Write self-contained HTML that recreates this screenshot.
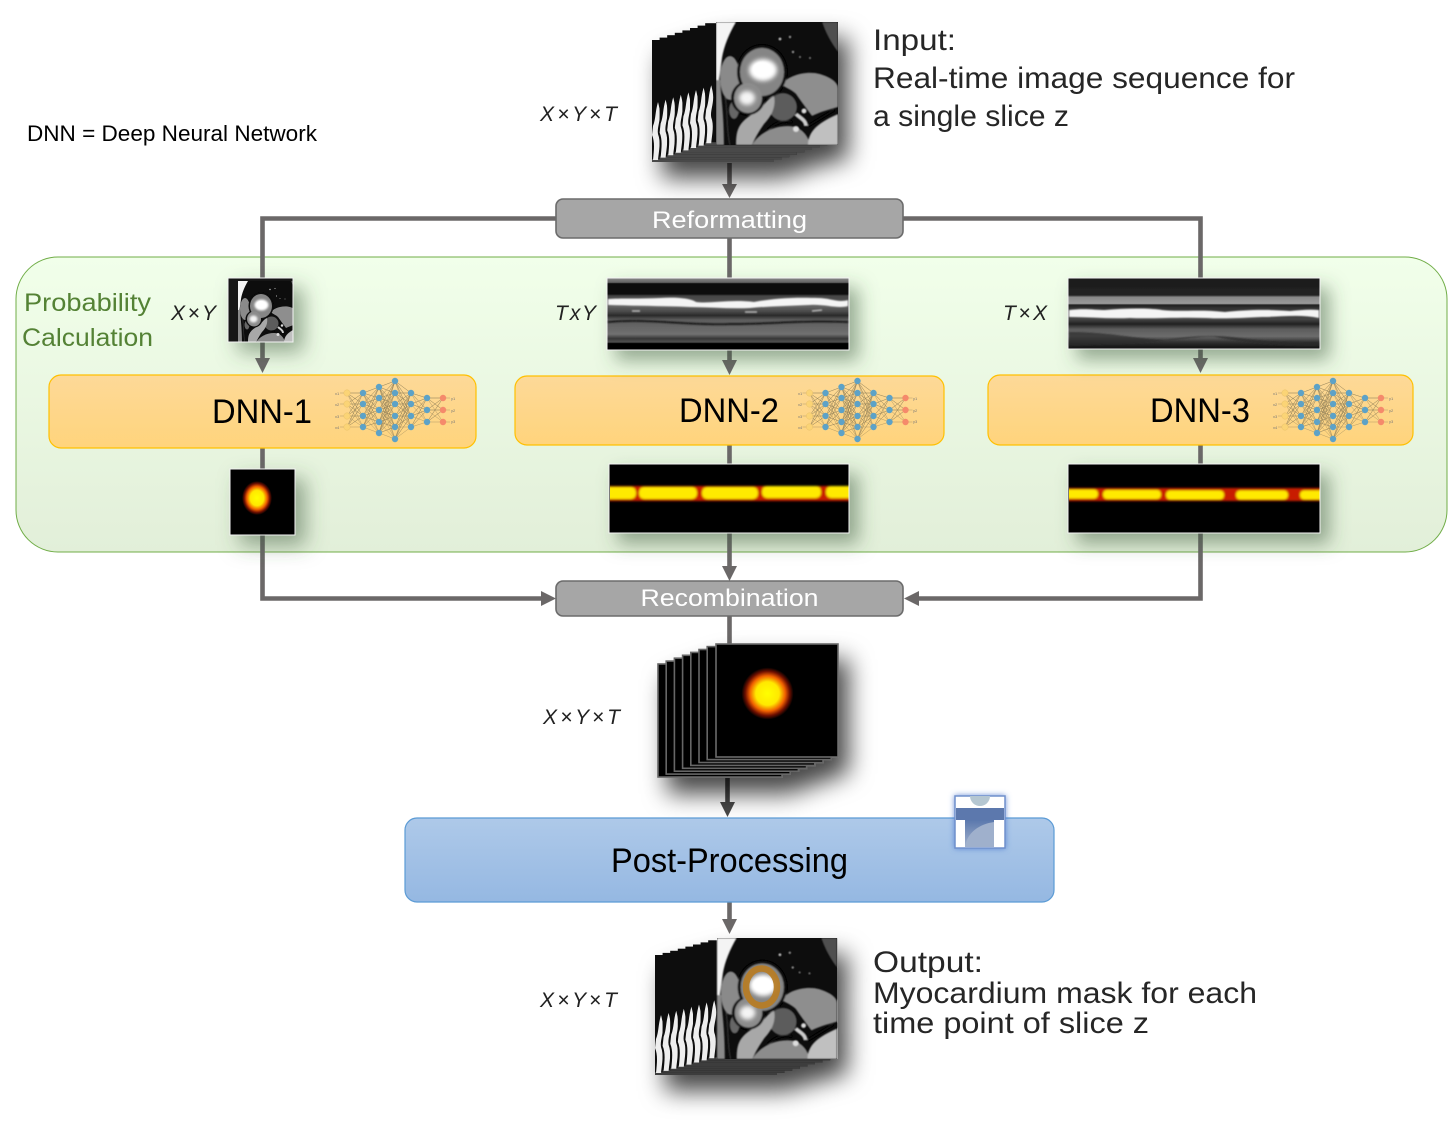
<!DOCTYPE html>
<html><head><meta charset="utf-8"><style>
html,body{margin:0;padding:0;background:#fff}
svg{display:block}
text{font-family:"Liberation Sans",sans-serif}
</style></head><body>
<svg width="1448" height="1121" viewBox="0 0 1448 1121" xmlns="http://www.w3.org/2000/svg">
<defs>
<linearGradient id="gGreen" x1="0" y1="0" x2="0" y2="1"><stop offset="0" stop-color="#f1ffea"/><stop offset="1" stop-color="#e2efd9"/></linearGradient>
<linearGradient id="gOrange" x1="0" y1="0" x2="0" y2="1"><stop offset="0" stop-color="#fdd998"/><stop offset="1" stop-color="#ffd47c"/></linearGradient>
<linearGradient id="gBlue" x1="0" y1="0" x2="0" y2="1"><stop offset="0" stop-color="#aec9e9"/><stop offset="1" stop-color="#95b8e2"/></linearGradient>
<linearGradient id="gIcon" x1="0" y1="0" x2="0" y2="1"><stop offset="0" stop-color="#5b78ad"/><stop offset="1" stop-color="#a0b0cc"/></linearGradient>
<radialGradient id="heat"><stop offset="0" stop-color="#ffff00"/><stop offset=".45" stop-color="#ffe800"/><stop offset=".68" stop-color="#f06000"/><stop offset=".85" stop-color="#701000"/><stop offset="1" stop-color="#000"/></radialGradient>
<linearGradient id="gTY" x1="0" y1="0" x2="0" y2="1">
<stop offset="0" stop-color="#888"/><stop offset=".06" stop-color="#666"/><stop offset=".08" stop-color="#0c0c0c"/><stop offset=".22" stop-color="#0c0c0c"/><stop offset=".25" stop-color="#444"/><stop offset=".4" stop-color="#606060"/><stop offset=".46" stop-color="#4c4c4c"/><stop offset=".52" stop-color="#2a2a2a"/><stop offset=".58" stop-color="#5c5c5c"/><stop offset=".78" stop-color="#707070"/><stop offset=".84" stop-color="#383838"/><stop offset=".89" stop-color="#505050"/><stop offset=".91" stop-color="#000"/><stop offset="1" stop-color="#000"/></linearGradient>
<linearGradient id="gTX" x1="0" y1="0" x2="0" y2="1">
<stop offset="0" stop-color="#1c1c1c"/><stop offset=".24" stop-color="#222"/><stop offset=".27" stop-color="#888"/><stop offset=".36" stop-color="#9a9a9a"/><stop offset=".38" stop-color="#222"/><stop offset=".43" stop-color="#333"/><stop offset=".58" stop-color="#444"/><stop offset=".65" stop-color="#222"/><stop offset=".72" stop-color="#5c5c5c"/><stop offset=".82" stop-color="#6c6c6c"/><stop offset=".9" stop-color="#333"/><stop offset="1" stop-color="#0c0c0c"/></linearGradient>
<filter id="b1" x="-20%" y="-20%" width="140%" height="140%"><feGaussianBlur stdDeviation="1"/></filter>
<filter id="b2" x="-30%" y="-30%" width="160%" height="160%"><feGaussianBlur stdDeviation="2.2"/></filter>
<filter id="b05" x="-10%" y="-10%" width="120%" height="120%"><feGaussianBlur stdDeviation=".7"/></filter>
<filter id="sStack" x="-20%" y="-20%" width="160%" height="160%"><feDropShadow dx="10" dy="16" stdDeviation="12" flood-color="#000" flood-opacity=".72"/></filter>
<filter id="sImg" x="-50%" y="-50%" width="220%" height="220%"><feDropShadow dx="10" dy="10" stdDeviation="10" flood-color="#3d5a3d" flood-opacity=".5"/></filter>
<filter id="sWide" x="-10%" y="-50%" width="125%" height="220%"><feDropShadow dx="9" dy="10" stdDeviation="9" flood-color="#3d5a3d" flood-opacity=".5"/></filter>
<filter id="glow" x="-30%" y="-30%" width="160%" height="160%"><feDropShadow dx="0" dy="0" stdDeviation="3" flood-color="#4a78d0" flood-opacity=".8"/></filter>

<g id="mri">
<rect width="122" height="123" fill="#070707"/>
<g filter="url(#b05)">
<path d="M106,0H122V30C116,22 110,12 106,0Z" fill="#505050"/>
<path d="M66,63C70,54 90,48 104,52C114,55 122,60 122,66V85C112,88 104,90 96,94C90,86 84,78 80,72C76,68 70,66 66,63Z" fill="#8e8e8e"/>
<ellipse cx="67" cy="85" rx="14" ry="14" fill="#5c5c5c"/>
<path d="M20,123C20,108 22,100 40,90C48,84 52,76 58,74C60,84 56,94 48,102C44,108 40,114 36,123Z" fill="#a8a8a8"/>
<path d="M36,123C42,112 56,104 72,104C84,104 92,112 94,123Z" fill="#8c8c8c"/>
<path d="M92,123C92,108 104,100 122,92V123Z" fill="#c0c0c0"/>
<path d="M80,92C84,96 90,98 90,104" fill="none" stroke="#ccc" stroke-width="4"/>
<path d="M52,108C60,100 68,98 76,100M92,104L118,88" fill="none" stroke="#111" stroke-width="1.6"/>
<ellipse cx="14" cy="56" rx="10" ry="22" fill="#8a8a8a"/>
<ellipse cx="18" cy="88" rx="5" ry="9" fill="#666"/>
<ellipse cx="46" cy="50" rx="25" ry="27" fill="#0a0a0a"/>
<ellipse cx="32" cy="76" rx="17" ry="17" fill="#0a0a0a"/>
<ellipse cx="46" cy="50" rx="22" ry="24" fill="#858585"/>
<ellipse cx="32" cy="76" rx="14" ry="15" fill="#8c8c8c"/>
<path d="M5,0H20C13,12 8,24 6,36C5,44 4,50 3,58H0V0Z" fill="#f4f4f4"/>
<path d="M0,58H4C5,74 8,92 8,123H0Z" fill="#8a8a8a"/>
<path d="M9,75C12,88 10,108 14,123" fill="none" stroke="#333" stroke-width="1.5"/>
</g>
<g filter="url(#b2)">
<ellipse cx="47" cy="48" rx="14" ry="11" fill="#fff"/>
<ellipse cx="31" cy="76" rx="8" ry="7" fill="#f4f4f4"/>
</g>
<g filter="url(#b05)">
<ellipse cx="46" cy="47" rx="9" ry="7" fill="#fff"/>
<circle cx="64" cy="17" r="1.4" fill="#ccc"/><circle cx="74" cy="15" r="1.2" fill="#aaa"/><circle cx="77" cy="30" r="1.2" fill="#aaa"/><circle cx="84" cy="35" r="1" fill="#999"/><circle cx="94" cy="36" r="1" fill="#999"/>
<circle cx="88" cy="89" r="2.5" fill="#ddd"/><circle cx="80" cy="107" r="3" fill="#ddd"/>
</g>
</g>

<g id="strip1">
<rect x="652" y="40" width="122" height="122" fill="#0a0a0a"/>
<rect x="652" y="159" width="122" height="3" fill="#4a4a4a"/>
<path d="M658,102C655,112 656,118 653,126L652,135C655,142 654,150 653,160L658,160C659,150 661,142 658,134C657,128 660,122 660,114C660,110 659,106 658,102Z" fill="#eee"/>
</g>
<g id="strip2">
<rect x="655" y="955" width="122" height="120" fill="#0a0a0a"/>
<rect x="655" y="1072" width="122" height="3" fill="#3c3c3c"/>
<path d="M661,1015C658,1025 659,1031 656,1039L655,1048C658,1055 657,1063 656,1073L661,1073C662,1063 664,1055 661,1047C660,1041 663,1035 663,1027C663,1023 662,1019 661,1015Z" fill="#eee"/>
</g>
<rect id="strip3" x="658" y="664" width="124" height="113" fill="#000" stroke="#666" stroke-width="1.6"/>

<g id="nn">
<path fill="none" stroke="#93835a" stroke-width=".35" d="
M-48 -17L-32 -17L-48 -17L-32 -6L-48 -17L-32 6L-48 -17L-32 17
M-48 -6L-32 -17L-48 -6L-32 -6L-48 -6L-32 6L-48 -6L-32 17
M-48 6L-32 -17L-48 6L-32 -6L-48 6L-32 6L-48 6L-32 17
M-48 17L-32 -17L-48 17L-32 -6L-48 17L-32 6L-48 17L-32 17
M-32 -17L-16 -23L-32 -17L-16 -12L-32 -17L-16 0L-32 -17L-16 12L-32 -17L-16 23
M-32 -6L-16 -23L-32 -6L-16 -12L-32 -6L-16 0L-32 -6L-16 12L-32 -6L-16 23
M-32 6L-16 -23L-32 6L-16 -12L-32 6L-16 0L-32 6L-16 12L-32 6L-16 23
M-32 17L-16 -23L-32 17L-16 -12L-32 17L-16 0L-32 17L-16 12L-32 17L-16 23
M-16 -23L0 -29L-16 -23L0 -17L-16 -23L0 -6L-16 -23L0 6L-16 -23L0 17L-16 -23L0 29
M-16 -12L0 -29L-16 -12L0 -17L-16 -12L0 -6L-16 -12L0 6L-16 -12L0 17L-16 -12L0 29
M-16 0L0 -29L-16 0L0 -17L-16 0L0 -6L-16 0L0 6L-16 0L0 17L-16 0L0 29
M-16 12L0 -29L-16 12L0 -17L-16 12L0 -6L-16 12L0 6L-16 12L0 17L-16 12L0 29
M-16 23L0 -29L-16 23L0 -17L-16 23L0 -6L-16 23L0 6L-16 23L0 17L-16 23L0 29
M0 -29L16 -17L0 -29L16 -6L0 -29L16 6L0 -29L16 17
M0 -17L16 -17L0 -17L16 -6L0 -17L16 6L0 -17L16 17
M0 -6L16 -17L0 -6L16 -6L0 -6L16 6L0 -6L16 17
M0 6L16 -17L0 6L16 -6L0 6L16 6L0 6L16 17
M0 17L16 -17L0 17L16 -6L0 17L16 6L0 17L16 17
M0 29L16 -17L0 29L16 -6L0 29L16 6L0 29L16 17
M16 -17L32 -12L16 -17L32 0L16 -17L32 12
M16 -6L32 -12L16 -6L32 0L16 -6L32 12
M16 6L32 -12L16 6L32 0L16 6L32 12
M16 17L32 -12L16 17L32 0L16 17L32 12
M32 -12L48 -12L32 -12L48 0L32 -12L48 12
M32 0L48 -12L32 0L48 0L32 0L48 12
M32 12L48 -12L32 12L48 0L32 12L48 12
M-55 -17H-51M-55 -6H-51M-55 6H-51M-55 17H-51M51 -12H55M51 0H55M51 12H55"/>
<g fill="#fbd476" stroke="#e3bb63" stroke-width=".4"><circle cx="-48" cy="-17" r="3.200"/><circle cx="-48" cy="-6" r="3.200"/><circle cx="-48" cy="6" r="3.200"/><circle cx="-48" cy="17" r="3.200"/></g>
<g fill="#5da2c7"><circle cx="-32" cy="-17" r="3.200"/><circle cx="-32" cy="-6" r="3.200"/><circle cx="-32" cy="6" r="3.200"/><circle cx="-32" cy="17" r="3.200"/>
<circle cx="-16" cy="-23" r="3.200"/><circle cx="-16" cy="-12" r="3.200"/><circle cx="-16" cy="0" r="3.200"/><circle cx="-16" cy="12" r="3.200"/><circle cx="-16" cy="23" r="3.200"/>
<circle cx="0" cy="-29" r="3.200"/><circle cx="0" cy="-17" r="3.200"/><circle cx="0" cy="-6" r="3.200"/><circle cx="0" cy="6" r="3.200"/><circle cx="0" cy="17" r="3.200"/><circle cx="0" cy="29" r="3.200"/>
<circle cx="16" cy="-17" r="3.200"/><circle cx="16" cy="-6" r="3.200"/><circle cx="16" cy="6" r="3.200"/><circle cx="16" cy="17" r="3.200"/>
<circle cx="32" cy="-12" r="3.200"/><circle cx="32" cy="0" r="3.200"/><circle cx="32" cy="12" r="3.200"/></g>
<g fill="#f58a6b"><circle cx="48" cy="-12" r="3.200"/><circle cx="48" cy="0" r="3.200"/><circle cx="48" cy="12" r="3.200"/></g>
</g>
</defs>

<rect width="1448" height="1121" fill="#fff"/>

<!-- container -->
<rect x="16" y="257" width="1431" height="295" rx="42" ry="42" fill="url(#gGreen)" stroke="#70ad47" stroke-width="1"/>

<!-- connectors -->
<g fill="none" stroke="#6b6868" stroke-width="4.600">
<path d="M729.500,163V186"/>
<path d="M556,218.500H262.500V360"/>
<path d="M729.500,238V362"/>
<path d="M903,218.500H1200.500V360"/>
<path d="M262.500,448V470"/><path d="M729.500,445V465"/><path d="M1200.500,445V465"/>
<path d="M262.500,534V598.500H542"/>
<path d="M729.500,532V568"/>
<path d="M1200.500,532V598.500H918"/>
<path d="M729.500,616V646"/>
<path d="M729.500,902V920"/>
</g>
<path d="M727.500,778V804" fill="none" stroke="#484848" stroke-width="4.600"/>
<g fill="#6b6868">
<path d="M722,184H737L729.500,198Z"/>
<path d="M255,358H270L262.500,373Z"/>
<path d="M722,360H737L729.500,375Z"/>
<path d="M1193,358H1208L1200.500,373Z"/>
<path d="M541,591V606L556,598.500Z"/>
<path d="M722,566H737L729.500,581Z"/>
<path d="M919,591V606L904,598.500Z"/>
<path d="M722,919H737L729.500,934Z"/>
</g>
<path d="M720,802H735L727.500,817Z" fill="#484848"/>

<!-- input stack -->
<g filter="url(#sStack)">
<use href="#strip1"/><use href="#strip1" transform="translate(7.6,-2.4)"/><use href="#strip1" transform="translate(15.2,-4.8)"/><use href="#strip1" transform="translate(22.8,-7.2)"/><use href="#strip1" transform="translate(30.4,-9.6)"/><use href="#strip1" transform="translate(38,-12)"/><use href="#strip1" transform="translate(45.6,-14.4)"/><use href="#strip1" transform="translate(53.2,-16.8)"/>
<svg x="716" y="22" width="122" height="123" viewBox="0 0 122 123"><use href="#mri"/></svg>
</g>

<!-- output stack -->
<g filter="url(#sStack)">
<use href="#strip2"/><use href="#strip2" transform="translate(7.6,-2.1)"/><use href="#strip2" transform="translate(15.2,-4.2)"/><use href="#strip2" transform="translate(22.8,-6.3)"/><use href="#strip2" transform="translate(30.4,-8.4)"/><use href="#strip2" transform="translate(38,-10.5)"/><use href="#strip2" transform="translate(45.6,-12.6)"/><use href="#strip2" transform="translate(53.2,-14.7)"/>
<svg x="716" y="938" width="122" height="121" viewBox="0 0 122 123"><use href="#mri"/></svg>
</g>
<ellipse cx="761.500" cy="987" rx="15.500" ry="18.500" fill="none" stroke="#b67c26" stroke-width="6.500" opacity=".95"/>

<!-- recombination stack -->
<g filter="url(#sStack)">
<use href="#strip3"/><use href="#strip3" transform="translate(8.2,-2.9)"/><use href="#strip3" transform="translate(16.4,-5.8)"/><use href="#strip3" transform="translate(24.6,-8.7)"/><use href="#strip3" transform="translate(32.8,-11.6)"/><use href="#strip3" transform="translate(41,-14.5)"/><use href="#strip3" transform="translate(49.2,-17.4)"/>
<rect x="716" y="644" width="122" height="113" fill="#000" stroke="#6a6a6a" stroke-width="1.6"/>
</g>
<ellipse cx="767.500" cy="693.500" rx="26" ry="26" fill="url(#heat)"/>

<!-- boxes -->
<rect x="556" y="199" width="347" height="39" rx="7" fill="#a6a6a6" stroke="#6b6b6b" stroke-width="1.6"/>
<text x="729.500" y="228" font-size="24" fill="#fff" text-anchor="middle" textLength="155" lengthAdjust="spacingAndGlyphs">Reformatting</text>
<rect x="556" y="581" width="347" height="35" rx="7" fill="#a6a6a6" stroke="#6b6b6b" stroke-width="1.6"/>
<text x="729.500" y="606" font-size="24" fill="#fff" text-anchor="middle" textLength="178" lengthAdjust="spacingAndGlyphs">Recombination</text>

<rect x="49" y="375" width="427" height="73" rx="12" fill="url(#gOrange)" stroke="#ffc000" stroke-width="1.2"/>
<rect x="515" y="376" width="429" height="69" rx="12" fill="url(#gOrange)" stroke="#ffc000" stroke-width="1.2"/>
<rect x="988" y="375" width="425" height="70" rx="12" fill="url(#gOrange)" stroke="#ffc000" stroke-width="1.2"/>
<text x="262" y="423" font-size="34" fill="#000" text-anchor="middle" textLength="100" lengthAdjust="spacingAndGlyphs">DNN-1</text>
<text x="729" y="422" font-size="34" fill="#000" text-anchor="middle" textLength="100" lengthAdjust="spacingAndGlyphs">DNN-2</text>
<text x="1200" y="422" font-size="34" fill="#000" text-anchor="middle" textLength="100" lengthAdjust="spacingAndGlyphs">DNN-3</text>
<use href="#nn" transform="translate(395,410)"/>
<use href="#nn" transform="translate(857.5,410)"/>
<use href="#nn" transform="translate(1333,410)"/>
<g font-size="4" fill="#777">
<text x="335" y="395">x1</text><text x="335" y="406">x2</text><text x="335" y="418">x3</text><text x="335" y="429">x4</text><text x="451" y="400">y1</text><text x="451" y="412">y2</text><text x="451" y="423">y3</text>
<text x="798" y="395">x1</text><text x="798" y="406">x2</text><text x="798" y="418">x3</text><text x="798" y="429">x4</text><text x="913" y="400">y1</text><text x="913" y="412">y2</text><text x="913" y="423">y3</text>
<text x="1273" y="395">x1</text><text x="1273" y="406">x2</text><text x="1273" y="418">x3</text><text x="1273" y="429">x4</text><text x="1389" y="400">y1</text><text x="1389" y="412">y2</text><text x="1389" y="423">y3</text>
</g>

<rect x="405" y="818" width="649" height="84" rx="12" fill="url(#gBlue)" stroke="#5b9bd5" stroke-width="1.2"/>
<text x="729.500" y="872" font-size="34" fill="#000" text-anchor="middle" textLength="237" lengthAdjust="spacingAndGlyphs">Post-Processing</text>

<!-- icon -->
<g filter="url(#glow)">
<rect x="955" y="796" width="50" height="52" fill="#fff" stroke="#6f90cc" stroke-width="1.500"/>
<rect x="956" y="808" width="48" height="12" fill="#5b78ad"/>
<rect x="965" y="820" width="29" height="27" fill="url(#gIcon)"/>
<path d="M965,847C967,832 980,824 994,822V847Z" fill="#9fb0cc"/>
</g>
<path d="M970,796A10,10 0 0 0 990,796Z" fill="#b5c7d2"/>

<!-- XY images -->
<g filter="url(#sImg)">
<rect x="228" y="278" width="65" height="64" fill="#121212" stroke="#f4f4f4" stroke-width="1"/>
<svg x="238" y="281" width="54.500" height="60.500" viewBox="0 0 109 121"><use href="#mri"/></svg>
</g>
<g filter="url(#sImg)"><rect x="230" y="469" width="65" height="66" fill="#000" stroke="#f4f4f4" stroke-width="1"/></g>
<ellipse cx="257" cy="498" rx="15" ry="17" fill="url(#heat)"/>

<!-- TxY -->
<g filter="url(#sWide)"><rect x="607" y="278" width="242" height="72" fill="url(#gTY)" stroke="#f4f4f4" stroke-width="1"/></g>
<g filter="url(#b05)">
<path d="M608,299C620,298 640,299 660,298C675,297 690,298 696,302C710,304 730,299 754,302C770,299 790,297 818,298C830,298 838,303 848,300V306C838,309 825,304 810,305C790,306 770,306 750,308C730,309 710,307 690,307C670,306 640,306 608,305Z" fill="#f4f4f4"/>
<path d="M632,311L640,311M745,312L757,312M812,311L822,310" stroke="#bbb" stroke-width="1.500"/>
<path d="M608,322C650,318 690,326 730,324C770,324 810,320 848,322" fill="none" stroke="#1e1e1e" stroke-width="2"/>
</g>

<!-- TxX -->
<g filter="url(#sWide)"><rect x="1068" y="278" width="252" height="71" fill="url(#gTX)" stroke="#f4f4f4" stroke-width="1"/></g>
<g filter="url(#b05)">
<path d="M1069,310C1085,308 1095,310 1105,310C1125,308 1150,308 1162,310C1180,312 1200,309 1225,312C1245,310 1265,309 1290,311C1300,310 1310,309 1319,310V318C1300,314 1280,317 1262,317C1240,318 1225,319 1205,318C1180,317 1150,319 1130,318C1110,319 1090,317 1069,317Z" fill="#f4f4f4"/>
<path d="M1069,332C1110,332 1130,338 1165,340C1190,336 1215,334 1240,338C1270,342 1295,342 1319,342L1319,346C1280,347 1240,342 1215,337C1190,336 1150,345 1110,344L1069,346Z" fill="#2a2a2a" opacity=".7"/>
</g>

<!-- heat strips -->
<g filter="url(#sWide)"><rect x="609" y="464" width="240" height="69" fill="#000" stroke="#f4f4f4" stroke-width="1"/></g>
<svg x="610" y="465" width="238.500" height="67" viewBox="610 465 238.500 67">
<g filter="url(#b1)">
<rect x="600" y="486" width="260" height="15" fill="#c81c00"/>
<g fill="#ffea00"><rect x="596" y="487" width="40" height="12" rx="5"/><rect x="639" y="487" width="58" height="12" rx="5"/><rect x="702" y="487" width="56" height="12" rx="5"/><rect x="762" y="486" width="59" height="12" rx="5"/><rect x="826" y="486" width="40" height="12" rx="5"/></g>
</g></svg>

<g filter="url(#sWide)"><rect x="1068" y="464" width="252" height="69" fill="#000" stroke="#f4f4f4" stroke-width="1"/></g>
<svg x="1069" y="465" width="250.500" height="67" viewBox="1069 465 250.500 67">
<g filter="url(#b1)">
<rect x="1060" y="488" width="270" height="13" fill="#c81c00"/>
<g fill="#ffea00"><rect x="1055" y="489.500" width="43" height="9" rx="4"/><rect x="1103" y="490" width="58" height="9" rx="4"/><rect x="1166" y="490.500" width="58" height="9" rx="4"/><rect x="1236" y="490.500" width="52" height="9" rx="4"/><rect x="1300" y="490.500" width="30" height="9" rx="4"/></g>
</g></svg>

<!-- labels -->
<text x="27" y="141" font-size="22" fill="#000" textLength="290" lengthAdjust="spacingAndGlyphs">DNN = Deep Neural Network</text>
<g font-size="30" fill="#262626">
<text x="873" y="50" textLength="83" lengthAdjust="spacingAndGlyphs">Input:</text>
<text x="873" y="88" textLength="422" lengthAdjust="spacingAndGlyphs">Real-time image sequence for</text>
<text x="873" y="126" textLength="196" lengthAdjust="spacingAndGlyphs">a single slice z</text>
<text x="873" y="972" textLength="110" lengthAdjust="spacingAndGlyphs">Output:</text>
<text x="873" y="1003" textLength="384" lengthAdjust="spacingAndGlyphs">Myocardium mask for each</text>
<text x="873" y="1033" textLength="276" lengthAdjust="spacingAndGlyphs">time point of slice z</text>
</g>
<g font-size="25" fill="#548235">
<text x="24" y="311" textLength="127" lengthAdjust="spacingAndGlyphs">Probability</text>
<text x="22" y="346" textLength="131" lengthAdjust="spacingAndGlyphs">Calculation</text>
</g>
<g font-size="21" font-style="italic" fill="#222">
<text x="540" y="121" textLength="77" lengthAdjust="spacing">X × Y × T</text>
<text x="171" y="320" textLength="45" lengthAdjust="spacing">X × Y</text>
<text x="555" y="320" textLength="41" lengthAdjust="spacing">T x Y</text>
<text x="1003" y="320" textLength="44" lengthAdjust="spacing">T × X</text>
<text x="543" y="724" textLength="77" lengthAdjust="spacing">X × Y × T</text>
<text x="540" y="1007" textLength="77" lengthAdjust="spacing">X × Y × T</text>
</g>
</svg>
</body></html>
